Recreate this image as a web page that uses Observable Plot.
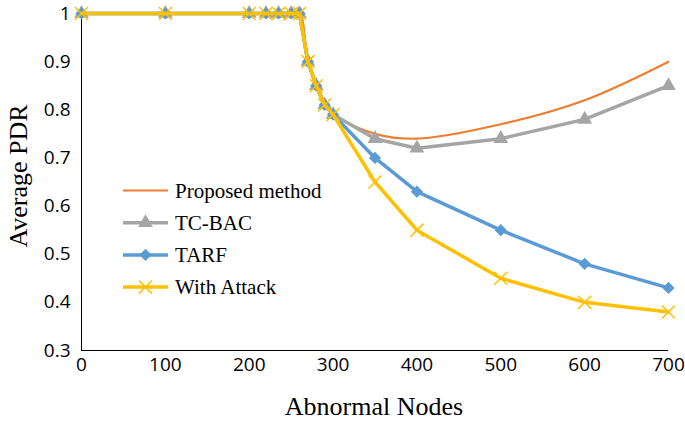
<!DOCTYPE html>
<html><head><meta charset="utf-8">
<script src="https://cdn.jsdelivr.net/npm/d3@7"></script>
<script src="https://cdn.jsdelivr.net/npm/@observablehq/plot@0.6"></script>
<style>
body{margin:0;background:#fff;}
#wrap{position:relative;width:685px;height:422px;overflow:hidden;}
#legend{position:absolute;left:119px;top:174px;}
#titles{position:absolute;left:0;top:0;pointer-events:none;}
</style></head><body>
<div id="wrap"><svg id="titles" width="685" height="422"></svg><div id="legend"></div></div>
<script>
const nodes    = [0, 100, 200, 220, 235, 250, 260, 270, 280, 290, 300, 350, 400, 500, 600, 700];
const proposed = [1, 1, 1, 1, 1, 1, 1, 0.90, 0.85, 0.81, 0.79, 0.75, 0.74, 0.77, 0.82, 0.90];
const tcbac    = [1, 1, 1, 1, 1, 1, 1, 0.90, 0.85, 0.81, 0.79, 0.74, 0.72, 0.74, 0.78, 0.85];
const tarf     = [1, 1, 1, 1, 1, 1, 1, 0.90, 0.85, 0.81, 0.79, 0.70, 0.63, 0.55, 0.48, 0.43];
const attack   = [1, 1, 1, 1, 1, 1, 1, 0.90, 0.85, 0.81, 0.79, 0.65, 0.55, 0.45, 0.40, 0.38];
const seriesNames  = ["Proposed method", "TC-BAC", "TARF", "With Attack"];
const seriesColors = ["#ED7D31", "#A5A5A5", "#5B9BD5", "#FFC000"];
const xTicks = [0, 100, 200, 300, 400, 500, 600, 700];
const yTicks = [0.3, 0.4, 0.5, 0.6, 0.7, 0.8, 0.9, 1];
const xTitle = "Abnormal Nodes";
const yTitle = "Average PDR";

const rows = (vals) => nodes.map((n, i) => ({x: n, y: vals[i]}));
const dP = rows(proposed), dT = rows(tcbac), dF = rows(tarf), dA = rows(attack);

const chart = Plot.plot({
  width: 685, height: 422,
  marginLeft: 81, marginRight: 17, marginTop: 13, marginBottom: 72,
  style: {fontFamily: "'Open Sans', sans-serif", fontSize: "19px", color: "#000", background: "#fff"},
  x: {domain: [0, 700], ticks: xTicks, tickSize: 0, tickPadding: 7, label: null},
  y: {domain: [0.3, 1], ticks: yTicks, tickSize: 0, tickPadding: 11, label: null, tickFormat: d => String(d)},
  marks: [
    Plot.ruleY([0.3], {stroke: "#000", strokeWidth: 1}),
    Plot.ruleX([0], {stroke: "#000", strokeWidth: 1}),
    Plot.line(dP, {x: "x", y: "y", stroke: seriesColors[0], strokeWidth: 2.2, curve: "catmull-rom"}),
    Plot.line(dT, {x: "x", y: "y", stroke: seriesColors[1], strokeWidth: 3.5}),
    Plot.dot(dT, {x: "x", y: "y", symbol: "triangle", fill: seriesColors[1], r: 5.5}),
    Plot.line(dF, {x: "x", y: "y", stroke: seriesColors[2], strokeWidth: 3.5}),
    Plot.dot(dF, {x: "x", y: "y", symbol: "diamond2", fill: seriesColors[2], r: 5.5}),
    Plot.line(dA, {x: "x", y: "y", stroke: seriesColors[3], strokeWidth: 3.5}),
    Plot.dot(dA, {x: "x", y: "y", symbol: "times", stroke: seriesColors[3], strokeWidth: 1.5, r: 6})
  ]
});
document.getElementById("wrap").prepend(chart);

// axis titles
const t = d3.select("#titles");
t.append("text").attr("x", 374).attr("y", 415).attr("text-anchor", "middle")
  .attr("font-family", "'Liberation Serif', serif").attr("font-size", 26).attr("fill", "#000").text(xTitle);
t.append("text").attr("transform", "translate(27,176) rotate(-90)").attr("text-anchor", "middle")
  .attr("font-family", "'Liberation Serif', serif").attr("font-size", 26).attr("fill", "#000").text(yTitle);

// legend
const symbols = [null, d3.symbolTriangle, d3.symbolDiamond2, d3.symbolTimes];
const lg = d3.select("#legend").append("svg").attr("width", 240).attr("height", 130);
seriesNames.forEach((name, i) => {
  const g = lg.append("g").attr("transform", `translate(0,${16.5 + i * 32.2})`);
  g.append("line").attr("x1", 4).attr("x2", 49).attr("y1", 0).attr("y2", 0)
    .attr("stroke", seriesColors[i]).attr("stroke-width", i === 0 ? 2.2 : 3.5);
  if (symbols[i]) {
    const area = Math.PI * 5.5 * 5.5;
    const p = g.append("path").attr("transform", "translate(26.5,0)")
      .attr("d", d3.symbol(symbols[i], i === 3 ? Math.PI * 36 : area)());
    if (i === 3) p.attr("fill", "none").attr("stroke", seriesColors[i]).attr("stroke-width", 1.5);
    else p.attr("fill", seriesColors[i]);
  }
  g.append("text").attr("x", 56).attr("y", 0).attr("dy", "0.35em")
    .attr("font-family", "'Liberation Serif', serif").attr("font-size", 21).attr("fill", "#000")
    .text(name);
});
</script>
</body></html>
